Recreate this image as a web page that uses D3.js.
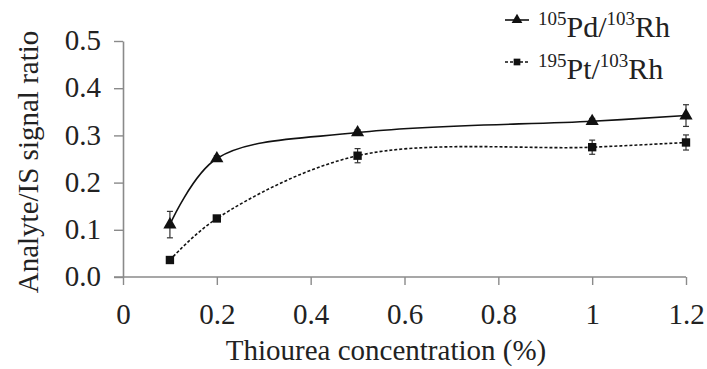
<!DOCTYPE html>
<html>
<head>
<meta charset="utf-8">
<script src="https://cdn.jsdelivr.net/npm/d3@7"></script>
<style>
  body { margin: 0; background: #fff; }
  text { font-family: "Liberation Serif", "Times New Roman", serif; fill: #222; }
</style>
</head>
<body>
<div id="chart"></div>
<script>
// thiourea concentration (%)
var concs = [0.1, 0.2, 0.5, 1.0, 1.2];
var pdValues = [0.111, 0.251, 0.306, 0.330, 0.342];
var pdErrors = [0.028, 0.006, 0.006, 0.006, 0.023];
var ptValues = [0.036, 0.124, 0.257, 0.275, 0.285];
var ptErrors = [0.005, 0.004, 0.015, 0.015, 0.016];
var xTicks = [0, 0.2, 0.4, 0.6, 0.8, 1, 1.2];
var yTicks = [0, 0.1, 0.2, 0.3, 0.4, 0.5];

var width = 707, height = 369;
var svg = d3.select("#chart").append("svg")
    .attr("width", width).attr("height", height);

var x = d3.scaleLinear().domain([0, 1.2]).range([123, 686]);
var y = d3.scaleLinear().domain([0, 0.5]).range([277, 41]);

var axisColor = "#8a8a8a";

// y axis
var yAxis = svg.append("g")
    .attr("transform", "translate(" + x(0) + ",0)")
    .call(d3.axisLeft(y).tickValues(yTicks).tickSize(9).tickSizeOuter(0)
        .tickFormat(d3.format(".1f")));
// x axis
var xAxis = svg.append("g")
    .attr("transform", "translate(0," + y(0) + ")")
    .call(d3.axisBottom(x).tickValues(xTicks).tickSize(8).tickSizeOuter(0)
        .tickFormat(function(d) { return d3.format("")(d); }));

[yAxis, xAxis].forEach(function(ax) {
  ax.select(".domain").attr("stroke", axisColor).attr("stroke-width", 1.6);
  ax.selectAll(".tick line").attr("stroke", axisColor).attr("stroke-width", 1.4);
  ax.selectAll(".tick text").attr("fill", "#222")
    .style("font-family", "'Liberation Serif', serif").style("font-size", "29px");
});
// x axis line reaches back under the y tick
xAxis.select(".domain").attr("d", "M" + (x(0) - 9) + ",0H" + x(1.2));
yAxis.selectAll(".tick text").attr("x", -22).attr("dy", "0.3em");
xAxis.selectAll(".tick text").attr("y", 26).attr("dy", "0.71em");

// titles
svg.append("text")
    .attr("x", 386).attr("y", 360)
    .attr("text-anchor", "middle")
    .style("font-size", "29px")
    .text("Thiourea concentration (%)");
svg.append("text")
    .attr("transform", "translate(38,162) rotate(-90)")
    .attr("text-anchor", "middle")
    .style("font-size", "29px")
    .text("Analyte/IS signal ratio");

var series = [
  { name: "pd", values: pdValues, errors: pdErrors, dash: null, marker: d3.symbolTriangle, size: 75 },
  { name: "pt", values: ptValues, errors: ptErrors, dash: "3,2", marker: d3.symbolSquare, size: 70 }
];

var line = d3.line()
    .x(function(d) { return x(d[0]); })
    .y(function(d) { return y(d[1]); })
    .curve(d3.curveCatmullRom.alpha(0.5));

series.forEach(function(s) {
  var pts = concs.map(function(c, i) { return [c, s.values[i], s.errors[i]]; });
  var g = svg.append("g").attr("class", s.name);

  g.append("path")
    .datum(pts)
    .attr("fill", "none")
    .attr("stroke", "#111")
    .attr("stroke-width", 1.6)
    .attr("stroke-dasharray", s.dash)
    .attr("d", line);

  // error bars
  var eb = g.selectAll(".err").data(pts).enter().append("g").attr("class", "err")
    .attr("stroke", "#333").attr("stroke-width", 1.2);
  eb.append("line")
    .attr("x1", function(d) { return x(d[0]); }).attr("x2", function(d) { return x(d[0]); })
    .attr("y1", function(d) { return y(d[1] + d[2]); })
    .attr("y2", function(d) { return y(d[1] - d[2]); });
  eb.append("line")
    .attr("x1", function(d) { return x(d[0]) - 3; }).attr("x2", function(d) { return x(d[0]) + 3; })
    .attr("y1", function(d) { return y(d[1] + d[2]); }).attr("y2", function(d) { return y(d[1] + d[2]); });
  eb.append("line")
    .attr("x1", function(d) { return x(d[0]) - 3; }).attr("x2", function(d) { return x(d[0]) + 3; })
    .attr("y1", function(d) { return y(d[1] - d[2]); }).attr("y2", function(d) { return y(d[1] - d[2]); });

  g.selectAll(".mark").data(pts).enter().append("path")
    .attr("class", "mark")
    .attr("transform", function(d) { return "translate(" + x(d[0]) + "," + y(d[1]) + ")"; })
    .attr("d", d3.symbol().type(s.marker).size(s.size))
    .attr("fill", "#111");
});

// legend
var legend = [
  { sup1: "105", el1: "Pd/", sup2: "103", el2: "Rh", dash: null, marker: d3.symbolTriangle, size: 50, y: 20 },
  { sup1: "195", el1: "Pt/", sup2: "103", el2: "Rh", dash: "3,2", marker: d3.symbolSquare, size: 45, y: 62 }
];
legend.forEach(function(l) {
  var g = svg.append("g").attr("transform", "translate(0," + l.y + ")");
  g.append("line").attr("x1", 505).attr("x2", 529)
    .attr("stroke", "#111").attr("stroke-width", 1.6).attr("stroke-dasharray", l.dash);
  g.append("path").attr("transform", "translate(517,0)")
    .attr("d", d3.symbol().type(l.marker).size(l.size)).attr("fill", "#111");
  var t = g.append("text").attr("x", 538).attr("y", 17).style("font-size", "30px");
  t.append("tspan").attr("dy", -12).style("font-size", "19px").text(l.sup1);
  t.append("tspan").attr("dy", 12).text(l.el1);
  t.append("tspan").attr("dy", -12).style("font-size", "19px").text(l.sup2);
  t.append("tspan").attr("dy", 12).text(l.el2);
});
</script>
</body>
</html>
